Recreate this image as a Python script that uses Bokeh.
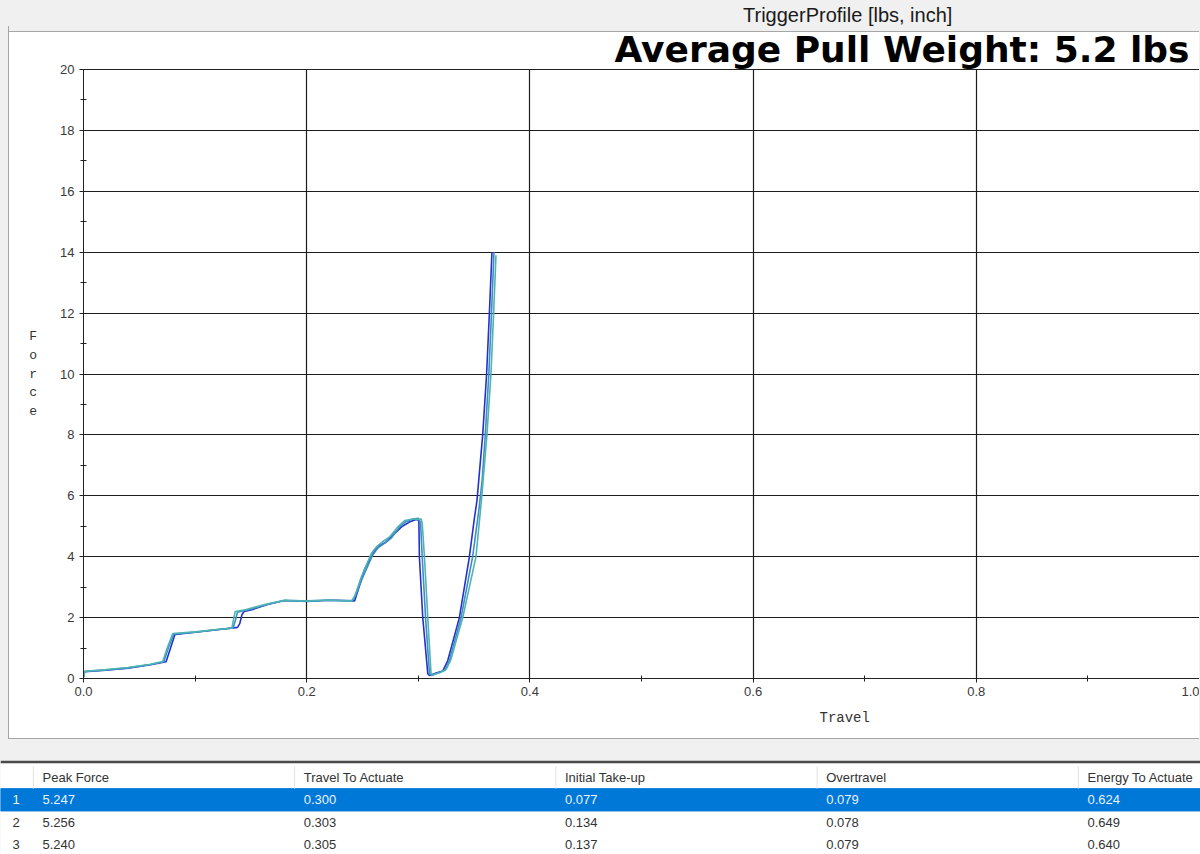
from bokeh.plotting import figure
from bokeh.models import (Range1d, SingleIntervalTicker, PrintfTickFormatter, Title,
                          ColumnDataSource, Spacer)
from bokeh.layouts import column, row
from bokeh.core.properties import value
from bokeh.embed import file_html
from bokeh.resources import INLINE

# ---------------- data ----------------
window_title = "TriggerProfile [lbs, inch]"
headline = "Average Pull Weight: 5.2 lbs"
x_label = "Travel"
y_label = "Force"

# pull 1 (dark blue)
x1 = [0.000, 0.001, 0.020, 0.040, 0.060, 0.074, 0.078, 0.082, 0.100, 0.120, 0.138, 0.140,
      0.142, 0.144, 0.150, 0.165, 0.180, 0.200, 0.220, 0.243, 0.246, 0.252, 0.261, 0.266,
      0.271, 0.277, 0.285, 0.292, 0.298, 0.3005, 0.301, 0.304, 0.3085, 0.310, 0.316, 0.322,
      0.3264, 0.3368, 0.3457, 0.350, 0.3526, 0.3577, 0.3612, 0.3637, 0.366]
y1 = [0.05, 0.22, 0.27, 0.34, 0.45, 0.55, 1.00, 1.45, 1.52, 1.60, 1.68, 1.80,
      2.10, 2.20, 2.25, 2.43, 2.56, 2.53, 2.57, 2.55, 2.90, 3.60, 4.20, 4.38,
      4.48, 4.70, 4.98, 5.14, 5.22, 5.20, 3.98, 2.00, 0.16, 0.10, 0.18, 0.25,
      0.59, 2.00, 3.98, 5.19, 5.85, 8.00, 10.00, 12.00, 14.00]

# pull 2 (blue-teal)
x2 = [0.000, 0.001, 0.020, 0.040, 0.060, 0.072, 0.076, 0.081, 0.100, 0.120, 0.134, 0.136,
      0.138, 0.146, 0.165, 0.180, 0.200, 0.220, 0.241, 0.244, 0.250, 0.259, 0.264, 0.270,
      0.276, 0.283, 0.289, 0.295, 0.300, 0.302, 0.3035, 0.3065, 0.310, 0.312, 0.318, 0.324,
      0.328, 0.3383, 0.3487, 0.3545, 0.3572, 0.3600, 0.3632, 0.3656, 0.3678]
y2 = [0.05, 0.23, 0.28, 0.35, 0.46, 0.55, 1.00, 1.46, 1.52, 1.61, 1.66, 1.90,
      2.18, 2.24, 2.44, 2.56, 2.55, 2.57, 2.55, 2.75, 3.30, 4.05, 4.30, 4.45,
      4.62, 4.97, 5.16, 5.24, 5.26, 5.12, 4.00, 2.00, 0.16, 0.10, 0.19, 0.27,
      0.60, 2.00, 4.00, 5.60, 6.50, 8.00, 10.00, 12.00, 14.00]

# pull 3 (teal)
x3 = [0.000, 0.001, 0.020, 0.040, 0.060, 0.071, 0.075, 0.080, 0.100, 0.120, 0.133, 0.1345,
      0.136, 0.145, 0.165, 0.180, 0.200, 0.220, 0.240, 0.243, 0.249, 0.258, 0.2626, 0.268,
      0.2746, 0.282, 0.288, 0.294, 0.3025, 0.3035, 0.3055, 0.3085, 0.3114, 0.313, 0.320, 0.325,
      0.329, 0.3398, 0.3517, 0.3568, 0.3615, 0.3651, 0.3675, 0.3696]
y3 = [0.05, 0.24, 0.29, 0.36, 0.47, 0.56, 1.00, 1.48, 1.53, 1.61, 1.65, 1.95,
      2.20, 2.26, 2.45, 2.57, 2.54, 2.58, 2.54, 2.70, 3.34, 4.11, 4.33, 4.49,
      4.66, 4.99, 5.19, 5.23, 5.24, 5.10, 4.00, 2.00, 0.16, 0.12, 0.20, 0.30,
      0.60, 2.00, 4.00, 5.95, 8.00, 10.00, 12.00, 13.90]

# results table
table_columns = ["Peak Force", "Travel To Actuate", "Initial Take-up", "Overtravel", "Energy To Actuate"]
row_numbers = ["1", "2", "3"]
peak_force = [5.247, 5.256, 5.240]
travel_to_actuate = [0.300, 0.303, 0.305]
initial_take_up = [0.077, 0.134, 0.137]
overtravel = [0.079, 0.078, 0.079]
energy_to_actuate = [0.624, 0.649, 0.640]

# ---------------- styling ----------------
W = 1200
BG = "#f0f0f0"
EDGE = "#a6a6a6"
GRID = "#1c1c1c"
COLORS = ["#2233cc", "#3f8cc4", "#4db3b3"]
HEADER_H = 26
CHART_H = 739 - HEADER_H
PANEL_TOP = 31 - HEADER_H   # where the white panel starts inside the chart box


def blank(width, height, fill):
    f = figure(width=width, height=height, x_range=Range1d(0, 1), y_range=Range1d(0, 1),
               x_axis_type=None, y_axis_type=None, toolbar_location=None,
               output_backend="svg", min_border=0, frame_align=False)
    f.background_fill_color = fill
    f.border_fill_color = fill
    f.outline_line_color = None
    return f


# header strip
header = blank(W, HEADER_H, BG)
header.text(x=[0.706], y=[0.46], text=[window_title], text_font=value("Liberation Sans"),
            text_font_size="20px", text_align="center", text_baseline="middle",
            text_color="#1a1a1a")

# main chart (panel look drawn with CSS behind a transparent border area)
panel_bg = ("linear-gradient(to bottom, %s 0px, %s %dpx, %s %dpx, %s %dpx, #ffffff %dpx)"
            % (BG, BG, PANEL_TOP, EDGE, PANEL_TOP, EDGE, PANEL_TOP + 1, PANEL_TOP + 1))
p = figure(width=W - 9, height=CHART_H, x_range=Range1d(0, 1.0), y_range=Range1d(0, 20),
           toolbar_location=None, output_backend="svg", frame_align=False,
           min_border_left=74, min_border_top=10, min_border_bottom=61, min_border_right=1,
           styles={"border-left": "1px solid " + EDGE, "border-bottom": "1px solid " + EDGE,
                   "box-sizing": "border-box", "background": panel_bg})
p.background_fill_color = "white"
p.border_fill_color = None
p.outline_line_color = "#222222"

p.title.text = headline
p.title.align = "left"
p.title.offset = 531
p.title.text_font = "DejaVu Sans"
p.title.text_font_style = "bold"
p.title.text_font_size = "36px"
p.title.text_color = "black"
p.title.standoff = 0

xt = SingleIntervalTicker(interval=0.2, num_minor_ticks=2)
yt = SingleIntervalTicker(interval=2, num_minor_ticks=2)
p.xaxis.ticker = xt
p.yaxis.ticker = yt
p.xgrid.ticker = xt
p.ygrid.ticker = yt
p.xaxis.formatter = PrintfTickFormatter(format="%.1f")
p.yaxis.formatter = PrintfTickFormatter(format="%d")

for g in (p.xgrid, p.ygrid):
    g.grid_line_color = GRID
    g.grid_line_width = 1.2
    g.grid_line_alpha = 1.0

for ax in (p.xaxis, p.yaxis):
    ax.axis_line_color = "#222222"
    ax.major_tick_line_color = "#222222"
    ax.minor_tick_line_color = "#222222"
    ax.major_tick_in = 0
    ax.major_tick_out = 4
    ax.minor_tick_in = 3
    ax.minor_tick_out = 3
    ax.major_label_text_font = "Liberation Sans"
    ax.major_label_text_font_size = "13px"
    ax.major_label_text_color = "#3a3a3a"

p.xaxis.major_label_standoff = 4
p.yaxis.major_label_standoff = 5

p.yaxis.axis_label = "\n".join(list(y_label))
p.yaxis.axis_label_orientation = "horizontal"
p.yaxis.axis_label_text_font = "Liberation Mono"
p.yaxis.axis_label_text_font_style = "normal"
p.yaxis.axis_label_text_font_size = "13px"
p.yaxis.axis_label_text_line_height = 1.25
p.yaxis.axis_label_text_color = "#333333"
p.yaxis.axis_label_standoff = 20

for xs, ys, c in zip((x1, x2, x3), (y1, y2, y3), COLORS):
    p.line(xs, ys, line_color=c, line_width=1.6)

p.add_layout(Title(text=x_label, align="left", offset=736, standoff=19,
                   text_font="Liberation Mono", text_font_style="normal",
                   text_font_size="14px", text_color="#333333"), "below")

left_pad = Spacer(width=8, height=CHART_H, styles={"background-color": BG})
chart_row = row(left_pad, p, styles={"background-color": BG})

# gap strip above the table
gap = blank(W, 21, BG)

# results table
COLW = 261.25
x_start = -42 / COLW
x_end = x_start + W / COLW
ROWH = 22.3
TH = 91
y_top = -14 / ROWH
y_bot = (TH - 14) / ROWH

t = figure(width=W, height=TH + 3, x_range=Range1d(x_start, x_end), y_range=Range1d(y_bot, y_top),
           x_axis_type=None, y_axis_type=None, toolbar_location=None, output_backend="svg",
           min_border=0, min_border_top=3, frame_align=False)
t.background_fill_color = "white"
t.border_fill_color = "#4a4a4a"
t.outline_line_color = None

t.hbar(y=[1], height=1, left=x_start, right=x_end, color="#0078d7")
t.segment(x0=[i - 0.035 for i in range(len(table_columns))], y0=-0.5,
          x1=[i - 0.035 for i in range(len(table_columns))], y1=0.5,
          line_color="#e2e2e2", line_width=1)

t.text(x=list(range(len(table_columns))), y=[0] * len(table_columns), text=table_columns,
       text_font=value("Liberation Sans"), text_font_size="13px", text_baseline="middle",
       text_color="#333333")

cols_vals = [peak_force, travel_to_actuate, initial_take_up, overtravel, energy_to_actuate]
cx, cy, ct, cc = [], [], [], []
for r in range(len(row_numbers)):
    for ci, vals in enumerate(cols_vals):
        cx.append(ci)
        cy.append(r + 1)
        ct.append("%.3f" % vals[r])
        cc.append("#eaf2ff" if r == 0 else "#333333")
src = ColumnDataSource(dict(x=cx, y=cy, text=ct, color=cc))
t.text(x="x", y="y", text="text", text_color="color", source=src,
       text_font=value("Liberation Sans"), text_font_size="13px", text_baseline="middle")

t.text(x=[0] * len(row_numbers), y=[r + 1 for r in range(len(row_numbers))], text=row_numbers,
       x_offset=-30, text_font=value("Liberation Sans"), text_font_size="13px",
       text_baseline="middle", text_color=["#eaf2ff", "#333333", "#333333"])

layout = column(header, chart_row, gap, t, styles={"background-color": BG})

open("out.html", "w").write(file_html(layout, INLINE))
